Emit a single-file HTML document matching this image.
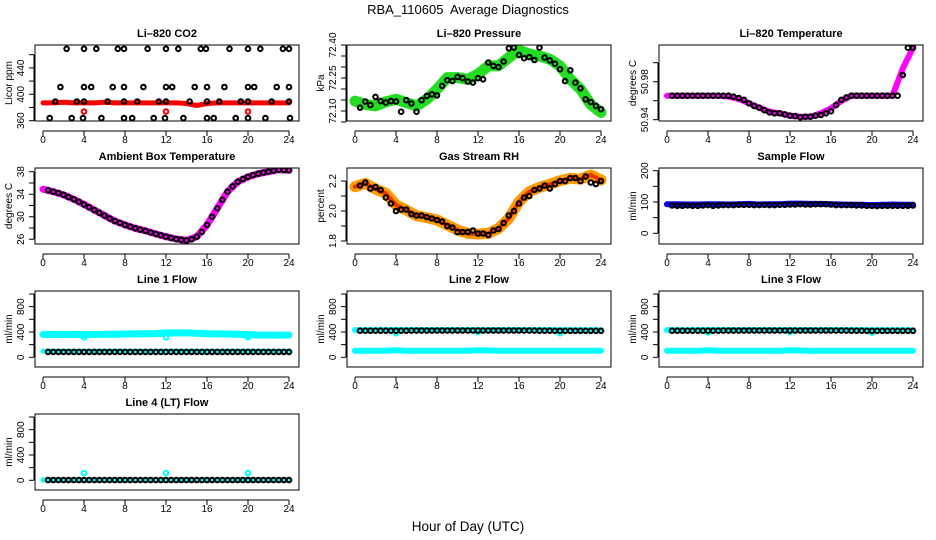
<!DOCTYPE html>
<html><head><meta charset="utf-8"><style>
html,body{margin:0;padding:0;background:#fff}
svg{display:block;font-family:"Liberation Sans",sans-serif}
</style></head><body>
<svg id="fig" width="936" height="540" viewBox="0 0 936 540" xmlns="http://www.w3.org/2000/svg">
<text x="468" y="14" text-anchor="middle" font-size="13">RBA_110605&#160; Average Diagnostics</text>
<text x="468" y="531" text-anchor="middle" font-size="13.5">Hour of Day (UTC)</text>
</svg>
<script>
const H=[0,1,2,3,4,5,6,7,8,9,10,11,12,13,14,15,16,17,18,19,20,21,22,23,24];
const HB=[0.5,1,1.5,2,2.5,3,3.5,4,4.5,5,5.5,6,6.5,7,7.5,8,8.5,9,9.5,10,10.5,11,11.5,12,12.5,13,13.5,14,14.5,15,15.5,16,16.5,17,17.5,18,18.5,19,19.5,20,20.5,21,21.5,22,22.5,23,23.5,24];
const xTicks=[0,4,8,12,16,20,24];
const outlierHours=[4,12,20];

// CO2
const co2Red=[387,387,388,387,387,387,388,387,387,387,387,387,387,387,386,383,386,387,387,387,387,387,387,387,387];
const co2RedOut=[374,374,374];
const co2BlackH=[2.3,4.0,5.2,7.3,7.9,10.2,12.0,13.2,15.4,15.9,18.2,20.0,21.2,23.4,24.0,
 1.7,4.0,4.7,6.8,7.9,9.8,12.0,12.6,14.8,16.0,17.7,20.0,20.6,22.8,24.0,
 1.2,3.3,4.0,6.3,7.9,9.2,11.3,12.0,14.3,16.0,17.2,19.3,20.0,22.3,24.0,
 0.65,2.8,3.9,5.7,7.9,8.7,10.8,11.9,13.7,16.0,16.65,18.8,20.0,21.7,24.1];
const co2BlackV=[469,469,469,469,469,469,469,469,469,469,469,469,469,469,469,
 411,411,411,411,411,411,411,411,411,411,411,411,411,411,411,
 389,389,389,389,389,389,389,389,389,389,389,389,389,389,389,
 364,364,364,364,364,364,364,364,364,364,364,364,364,364,364];
// Pressure
const presGreen=[72.145,72.130,72.123,72.142,72.153,72.138,72.123,72.153,72.199,72.252,72.252,72.244,72.267,72.305,72.305,72.343,72.376,72.358,72.350,72.335,72.305,72.244,72.199,72.130,72.093];
const presBlack=[72.115,72.143,72.127,72.164,72.145,72.138,72.145,72.143,72.097,72.149,72.134,72.097,72.149,72.168,72.176,72.171,72.214,72.240,72.236,72.255,72.249,72.234,72.229,72.249,72.244,72.320,72.305,72.300,72.325,72.385,72.388,72.355,72.340,72.345,72.332,72.388,72.343,72.330,72.315,72.290,72.236,72.285,72.229,72.203,72.153,72.141,72.123,72.108];
// Li-820 temperature
const tempMag=[50.9653,50.9653,50.9653,50.9653,50.9653,50.9653,50.9642,50.9618,50.9573,50.9526,50.9484,50.9467,50.9442,50.9432,50.9432,50.9467,50.952,50.9597,50.9653,50.9653,50.9653,50.9653,50.9653,50.994,51.0158];
const tempBlack=[50.9653,50.9653,50.9653,50.9653,50.9653,50.9653,50.9653,50.9653,50.9653,50.9653,50.9653,50.9653,50.9642,50.9628,50.961,50.9573,50.9545,50.9526,50.950,50.9477,50.9467,50.9467,50.9456,50.9442,50.9438,50.9425,50.9432,50.9432,50.9442,50.945,50.9467,50.949,50.9555,50.961,50.9635,50.9653,50.9653,50.9653,50.9653,50.9653,50.9653,50.9653,50.9653,50.9653,50.9653,50.987,51.0158,51.0158];
// Ambient
const ambMag=[34.9,34.45,33.9,33.1,32.2,31.2,30.2,29.25,28.55,27.95,27.5,26.95,26.45,26.05,25.8,26.45,28.55,31.5,34.45,36.2,37.1,37.65,38.0,38.35,38.25];
const ambBlack=[34.7,34.45,34.2,33.9,33.5,33.1,32.65,32.2,31.7,31.2,30.7,30.2,29.7,29.25,28.9,28.55,28.25,27.95,27.7,27.5,27.2,26.95,26.7,26.45,26.25,26.05,25.9,25.8,26.0,26.45,27.3,28.55,30.0,31.5,33.0,34.45,35.4,36.2,36.7,37.1,37.4,37.65,37.85,38.0,38.2,38.35,38.3,38.25];
// RH
const rhOrange=[2.162,2.184,2.147,2.118,2.04,2.007,1.969,1.956,1.94,1.907,1.873,1.851,1.847,1.851,1.884,1.951,2.062,2.129,2.158,2.178,2.202,2.218,2.213,2.24,2.207];
const rhBlack=[2.17,2.19,2.15,2.16,2.14,2.09,2.05,2.00,2.01,2.01,1.98,1.97,1.97,1.96,1.95,1.94,1.93,1.90,1.89,1.86,1.86,1.86,1.87,1.85,1.85,1.84,1.87,1.88,1.92,1.97,2.00,2.05,2.09,2.10,2.14,2.15,2.17,2.15,2.18,2.20,2.20,2.22,2.22,2.20,2.23,2.19,2.18,2.20];
// Sample flow
const sampBlue=[93,93,92,92,93,93,92,93,94,92,93,93,95,95,94,94,93,92,91,91,90,91,92,91,91];
const sampBlack=[89,88,88,89,88,88,89,90,88,89,90,90,90,91,91,91,90,90,91,90,90,91,91,92,92,93,92,92,93,93,93,92,90,90,90,90,89,89,88,88,87,88,88,88,88,88,88,89];
// Line flows
const l1CyanHi=[360,362,362,362,358,362,362,365,368,370,372,375,385,385,385,380,372,370,368,365,358,352,350,350,352];
const l1CyanLo=[95,95,95,95,95,95,95,95,95,95,95,95,95,95,95,95,95,95,95,95,95,95,95,95,95];
const l1Black=[85,85,85,85,85,85,85,85,85,85,85,85,85,85,85,85,85,85,85,85,85,85,85,85,85,85,85,85,85,85,85,85,85,85,85,85,85,85,85,85,85,85,85,85,85,85,85,85];
const l1Out=[316,316,316];
const l2CyanHi=[430,428,428,430,432,432,432,432,432,432,432,432,432,432,432,432,432,432,430,430,428,428,428,426,426];
const l2CyanLo=[105,105,105,105,110,105,105,105,105,105,105,105,112,108,105,105,105,105,105,105,105,105,105,105,105];
const l2Black=[420,420,420,420,420,420,420,420,420,420,422,422,422,422,424,424,424,424,424,424,424,424,424,424,424,424,424,424,424,424,424,424,422,422,422,420,420,420,418,418,418,418,418,418,418,418,418,418];
const l2Out=[380,400,380];
const l3CyanHi=[430,428,428,430,432,432,432,432,432,432,432,432,432,432,432,432,432,432,430,430,428,428,428,426,426];
const l3CyanLo=[105,105,105,105,110,105,105,105,105,105,105,105,112,108,105,105,105,105,105,105,105,105,105,105,105];
const l3Black=[420,420,420,420,420,420,420,420,420,420,422,422,422,422,424,424,424,424,424,424,424,424,424,424,424,424,424,424,424,424,424,424,422,422,422,420,420,420,418,418,418,418,418,418,418,418,418,418];
const l3Out=[390,400,390];
const l4Cyan=[5,5,5,5,5,5,5,5,5,5,5,5,5,5,5,5,5,5,5,5,5,5,5,5,5];
const l4Black=[5,5,5,5,5,5,5,5,5,5,5,5,5,5,5,5,5,5,5,5,5,5,5,5,5,5,5,5,5,5,5,5,5,5,5,5,5,5,5,5,5,5,5,5,5,5,5,5];
const l4Out=[115,115,115];

const flowTicks=[0,200,400,600,800,1000];
const flowLabels=[0,400,800];

const svg=document.getElementById('fig');
const NS='http://www.w3.org/2000/svg';
function mk(tag,attrs,parent){const e=document.createElementNS(NS,tag);for(const k in attrs)e.setAttribute(k,attrs[k]);(parent||svg).appendChild(e);return e;}

let clipId=0;
function panel(col,row,slug,title,ylab,v0,p0,k,ticks,labels,fmt,draw){
  const bx=35+312*col, by=45+123*row, bw=264, bh=76;
  const x0=43+312*col;
  const xs=h=>x0+h*10.25;
  const ys=v=>by+p0-(v-v0)*k;
  const g=mk('g',{});
  
  
  const t=mk('text',{x:bx+bw/2,y:by-8,'text-anchor':'middle','font-size':'11','font-weight':'bold'},g);
  t.textContent=title;
  
  
  const cid='c'+(clipId++);
  const cp=mk('clipPath',{id:cid},g);
  mk('rect',{x:bx,y:by,width:bw,height:bh},cp);
  const plot=mk('g',{'clip-path':'url(#'+cid+')'},g);
  
  
  const api={
    band(hs,vals,color,w,name){
      const pts=hs.map((h,i)=>xs(h).toFixed(1)+','+ys(vals[i]).toFixed(1)).join(' ');
      const pl=mk('polyline',{points:pts,fill:'none',stroke:color,'stroke-width':w,'stroke-linejoin':'round','stroke-linecap':'round'},plot);
      
      
    },
    pts(hs,vals,color,name,r){
      const pg=mk('g',{fill:'none',stroke:color,'stroke-width':'2'},plot);
      
      
      hs.forEach((h,i)=>{
        const c=mk('circle',{cx:xs(h).toFixed(1),cy:ys(vals[i]).toFixed(1),r:r||2.3},pg);
        
        
      });
    }
  };
  draw(api);
  const box=mk('rect',{x:bx,y:by,width:bw,height:bh,fill:'none',stroke:'#000','stroke-width':'1'},g);
  
  
  const xa=mk('g',{},g);
  
  
  const ay=by+bh+10;
  mk('line',{x1:xs(0),x2:xs(24),y1:ay,y2:ay,stroke:'#000'},xa);
  xTicks.forEach(h=>{
    mk('line',{x1:xs(h),x2:xs(h),y1:ay,y2:ay+5,stroke:'#000'},xa);
    const tl=mk('text',{x:xs(h),y:ay+12,'text-anchor':'middle','font-size':'10'},xa);
    tl.textContent=h;
    
    
  });
  const ya=mk('g',{},g);
  
  
  const yt=ticks.map(ys);
  mk('line',{x1:bx-1,x2:bx-1,y1:Math.min(...yt),y2:Math.max(...yt),stroke:'#000'},ya);
  ticks.forEach(v=>mk('line',{x1:bx-6,x2:bx-1,y1:ys(v),y2:ys(v),stroke:'#000'},ya));
  labels.forEach((v,i)=>{
    const yy=ys(v);
    const tl=mk('text',{x:0,y:0,'text-anchor':'middle','font-size':'10',transform:'translate('+(bx-11)+','+yy.toFixed(1)+') rotate(-90)'},ya);
    tl.textContent=fmt(v,i);
    
    
  });
  const yl=mk('text',{x:0,y:0,'text-anchor':'middle','font-size':'10',transform:'translate('+(bx-23)+','+(by+bh/2)+') rotate(-90)'},g);
  yl.textContent=ylab;
  
  
}
const plain=v=>String(v);

panel(0,0,'co2','Li\u2013820 CO2','Licor ppm',360,75.7,0.66,[360,380,400,420,440,460],[360,400,440],plain,a=>{
  a.band(H,co2Red,'#ff0000',5,'co2-red-band');
  a.pts(outlierHours,co2RedOut,'#ff0000','co2-red-outliers');
  a.pts(co2BlackH,co2BlackV,'#000','co2-black-points');
});
panel(1,0,'pressure','Li\u2013820 Pressure','kPa',72.10,66,220,[72.05,72.10,72.15,72.20,72.25,72.30,72.35,72.40],[72.40,72.25,72.10],v=>v.toFixed(2),a=>{
  a.band(H,presGreen,'#22dd22',11,'pressure-green-band');
  a.pts(HB,presBlack,'#000','pressure-black-points');
});
panel(2,0,'li820-temp','Li\u2013820 Temperature','degrees C',50.96,55.7,950,[50.94,50.96,50.98,51.00],[50.94,50.98],v=>v.toFixed(2),a=>{
  a.band(H,tempMag,'#ff00ff',6,'temp-magenta-band');
  a.pts(HB,tempBlack,'#000','temp-black-points');
});
panel(0,1,'ambient','Ambient Box Temperature','degrees C',38,3.7,5.63,[26,28,30,32,34,36,38],[26,30,34,38],plain,a=>{
  a.band(H,ambMag,'#ff00ff',7,'ambient-magenta-band');
  a.pts(HB,ambBlack,'#000','ambient-black-points');
});
panel(1,1,'rh','Gas Stream RH','percent',2.2,13,150,[1.8,1.9,2.0,2.1,2.2],[1.8,2.0,2.2],v=>v.toFixed(1),a=>{
  a.band(H,rhOrange,'#ff9a00',11,'rh-orange-band');
  a.band(H,rhOrange,'#ee3300',4,'rh-red-core');
  a.pts(HB,rhBlack,'#000','rh-black-points');
});
panel(2,1,'sample-flow','Sample Flow','ml/min',0,65.3,0.313,[0,50,100,150,200],[0,100,200],plain,a=>{
  a.band(H,sampBlue,'#0000ff',6,'sample-blue-band');
  a.pts(HB,sampBlack,'#000','sample-black-points');
});
panel(0,2,'line1','Line 1 Flow','ml/min',0,66.3,0.0633,flowTicks,flowLabels,plain,a=>{
  a.band(H,l1CyanHi,'#00ffff',7,'line1-cyan-high');
  a.band(H,l1CyanLo,'#00ffff',5,'line1-cyan-low');
  a.pts(outlierHours,l1Out,'#00ffff','line1-outliers');
  a.pts(HB,l1Black,'#000','line1-black-points');
});
panel(1,2,'line2','Line 2 Flow','ml/min',0,66.3,0.0633,flowTicks,flowLabels,plain,a=>{
  a.band(H,l2CyanHi,'#00ffff',6,'line2-cyan-high');
  a.band(H,l2CyanLo,'#00ffff',6,'line2-cyan-low');
  a.pts(outlierHours,l2Out,'#00ffff','line2-outliers');
  a.pts(HB,l2Black,'#000','line2-black-points');
});
panel(2,2,'line3','Line 3 Flow','ml/min',0,66.3,0.0633,flowTicks,flowLabels,plain,a=>{
  a.band(H,l3CyanHi,'#00ffff',6,'line3-cyan-high');
  a.band(H,l3CyanLo,'#00ffff',6,'line3-cyan-low');
  a.pts(outlierHours,l3Out,'#00ffff','line3-outliers');
  a.pts(HB,l3Black,'#000','line3-black-points');
});
panel(0,3,'line4','Line 4 (LT) Flow','ml/min',0,66.3,0.0633,flowTicks,flowLabels,plain,a=>{
  a.band(H,l4Cyan,'#00ffff',5,'line4-cyan-band');
  a.pts(outlierHours,l4Out,'#00ffff','line4-outliers');
  a.pts(HB,l4Black,'#000','line4-black-points');
});
</script>
</body></html>
